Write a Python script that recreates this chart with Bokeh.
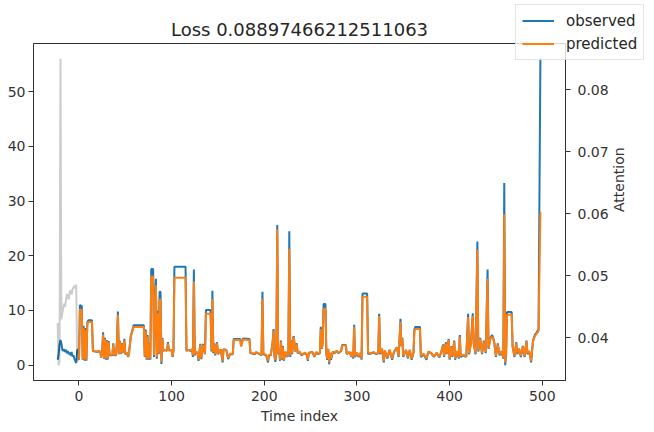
import math
from bokeh.plotting import figure
from bokeh.models import Range1d, LinearAxis, Legend, LegendItem, FixedTicker, PrintfTickFormatter
from bokeh.embed import file_html
from bokeh.resources import INLINE

TITLE = "Loss 0.08897466212511063"

# encoder (history) part
enc_x = [-23, -22, -21, -20, -19, -18, -17, -16, -15, -14, -13, -12,
         -11, -10, -9, -8, -7, -6, -5, -4, -3, -2, -1]
enc_obs = [1.0, 2.0, 3.8, 4.6, 4.0, 2.8, 2.6, 2.9, 2.4, 2.8, 2.2, 2.6,
           2.0, 2.3, 1.8, 2.4, 1.6, 1.8, 1.2, 0.8, 0.4, 2.6, 3.0]
attention = [0.0424, 0.0356, 0.0362, 0.0850, 0.0430, 0.0440, 0.0448, 0.0455,
             0.0450, 0.0462, 0.0471, 0.0466, 0.0462, 0.0474, 0.0477, 0.0470,
             0.0478, 0.0481, 0.0484, 0.0480, 0.0486, 0.0370, 0.0362]

# decoder (prediction) part
dec_x = [0, 1, 3, 4, 5, 6, 7, 8, 9, 10, 14, 15, 18, 20, 21, 23, 24, 25, 26, 27,
         28, 29, 30, 31, 32, 33, 36, 37, 38, 40,
         41, 42, 43, 44, 45, 46, 47, 49, 50, 52, 53, 54, 56, 57, 59, 70, 71, 72, 73, 74,
         75, 76, 77,
         78, 80, 81, 82, 83, 84, 85, 86, 87, 88, 89, 90, 91, 93, 95, 96, 97, 100, 101, 102,
         103, 115, 116, 118, 120, 122, 123, 124, 125, 126, 128, 129, 130, 131, 132, 134, 136,
         137, 142, 143, 144, 145, 146, 147, 149, 150, 153, 155, 156, 159, 161, 163, 166, 167,
         174, 175, 177, 184, 185, 190, 191, 195, 197,
         198, 199, 202, 204, 205, 207, 209, 210, 211, 212, 213, 214, 215, 216, 217, 218, 219,
         220, 221, 223, 225, 226, 227, 228, 229, 230, 231, 232, 233, 235, 236, 238, 240, 244,
         246, 247, 248, 252, 254, 256, 258, 260,
         261, 262, 263, 264, 266, 267, 268, 269, 270, 271, 272, 274, 276, 278, 280, 283, 284,
         288, 289, 292, 294, 295, 296, 297, 298, 300, 302, 304, 305, 306, 311, 312, 315, 318,
         321, 323,
         324, 325, 327, 329, 330, 333, 335, 338, 340, 343, 345, 347, 348, 349, 350, 353, 355,
         357, 359, 361, 362, 363, 368, 369, 372, 375, 377, 380, 383, 386, 389, 391, 393, 394,
         396, 397, 399, 400, 402, 403, 405, 406, 408, 410, 411, 412, 415, 418,
         420, 421, 423, 425, 426, 428, 430, 431, 433, 435, 437, 439, 441, 442, 444, 446, 448,
         450, 452, 454, 456, 458, 459, 460, 461, 462, 467, 468, 470, 472, 473, 475, 477, 479,
         481, 483, 484, 486, 488, 490, 492, 494, 496, 498, 499]
dec_obs = [1.0, 11.0, 10.8, 1.0, 7.2, 0.8, 6.8, 0.8, 7.8, 8.2, 8.2, 2.6, 2.5, 2.4, 2.6, 2.4, 1.4, 2.5, 6.0, 1.2,
           5.0, 1.0, 4.6, 1.0, 4.4, 1.8, 1.8, 4.0, 1.8, 1.8,
           4.5, 9.8, 2.0, 4.5, 2.0, 4.0, 2.2, 4.8, 2.0, 2.2, 1.5, 2.2, 5.5, 6.0, 7.3, 7.3, 1.5, 6.5, 1.0, 5.5,
           1.0, 4.0, 1.0,
           17.6, 17.6, 1.5, 12.0, 15.8, 1.2, 10.0, 2.0, 13.4, 13.4, 0.2, 5.0, 2.6, 2.8, 2.6, 4.2, 2.7, 2.8, 1.5, 2.6,
           18.0, 18.0, 2.6, 2.8, 2.6, 2.9, 1.5, 17.5, 1.8, 2.4, 2.2, 0.8, 2.4, 3.9, 1.1, 3.9, 2.0,
           10.1, 10.1, 2.5, 13.6, 2.2, 4.0, 1.8, 4.2, 2.0, 2.9, 0.5, 2.9, 2.8, 1.1, 2.0, 2.0, 4.8,
           4.8, 3.5, 4.9, 4.8, 2.2, 2.0, 2.4, 2.0, 1.8,
           13.4, 2.0, 1.8, 0.5, 1.8, 1.8, 4.2, 6.6, 1.5, 0.6, 3.0, 25.6, 2.0, 3.0, 0.8, 4.5, 1.0,
           3.5, 0.8, 2.4, 1.5, 2.5, 24.5, 1.5, 4.5, 2.0, 5.0, 5.3, 2.5, 4.0, 2.2, 2.4, 1.8, 2.2,
           1.8, 0.8, 2.2, 2.4, 1.5, 2.4, 2.0, 2.2,
           7.0, 3.0, 4.0, 11.2, 11.2, 2.0, 1.0, 3.0, 0.2, 2.2, 1.0, 2.4, 2.2, 2.6, 2.2, 2.6, 3.7,
           3.7, 2.0, 2.4, 1.5, 2.4, 1.2, 7.4, 1.5, 2.2, 1.5, 2.2, 1.0, 13.1, 13.1, 2.1, 2.1, 2.3,
           2.0, 2.2,
           9.4, 2.0, 3.0, 0.5, 2.6, 1.2, 2.8, 1.0, 2.4, 3.3, 1.5, 8.5, 3.5, 5.0, 1.5, 2.8, 1.2,
           2.8, 1.0, 2.2, 6.5, 7.0, 7.0, 1.5, 2.0, 1.0, 2.4, 2.2, 1.5, 2.2, 1.4, 2.4, 3.8, 1.5,
           4.2, 2.0, 4.8, 1.0, 3.5, 1.5, 4.5, 1.0, 2.5, 1.2, 5.5, 1.5, 1.8, 1.5,
           9.4, 2.0, 4.0, 9.5, 4.0, 2.0, 22.6, 2.5, 5.0, 2.0, 4.5, 2.2, 17.5, 3.0, 5.0, 5.5, 4.5,
           1.5, 4.0, 1.8, 2.5, 1.2, 33.3, 0.0, 2.0, 9.7, 9.7, 3.5, 1.5, 4.2, 2.0, 3.0, 1.5, 3.5,
           1.5, 4.5, 2.0, 2.5, 0.5, 4.5, 5.5, 6.0, 6.5, 56.0, 56.0]
dec_pred = [1.0, 10.2, 10.0, 1.1, 6.8, 1.0, 6.4, 1.0, 7.5, 7.9, 7.9, 2.7, 2.5, 2.5, 2.6, 2.5, 1.5, 2.5, 5.6, 1.3,
            4.8, 1.2, 4.4, 1.2, 4.2, 1.9, 1.9, 3.8, 1.9, 1.9,
            4.3, 9.2, 2.1, 4.3, 2.1, 3.8, 2.3, 4.6, 2.1, 2.3, 1.6, 2.3, 5.3, 5.8, 7.0, 7.0, 1.6, 6.2, 1.2, 5.2,
            1.2, 3.8, 1.2,
            16.2, 16.2, 1.8, 11.0, 14.6, 1.5, 9.5, 2.2, 12.0, 12.0, 0.6, 4.8, 2.7, 2.8, 2.7, 4.0, 2.7, 2.8, 1.6, 2.7,
            16.0, 16.0, 2.7, 2.8, 2.7, 2.9, 1.8, 15.3, 2.0, 2.5, 2.3, 1.0, 2.5, 3.7, 1.3, 3.7, 2.1,
            9.4, 9.4, 2.7, 12.1, 2.4, 3.8, 2.0, 4.0, 2.1, 2.9, 0.8, 2.9, 2.8, 1.3, 2.1, 2.1, 4.6,
            4.6, 3.4, 4.7, 4.6, 2.3, 2.1, 2.4, 2.1, 1.9,
            12.2, 2.1, 1.9, 0.8, 1.9, 1.9, 4.0, 6.3, 1.7, 0.9, 3.0, 24.8, 2.2, 3.0, 1.0, 4.3, 1.2,
            3.3, 1.0, 2.5, 1.6, 2.6, 21.3, 1.8, 4.3, 2.2, 4.8, 5.1, 2.6, 3.8, 2.3, 2.5, 1.9, 2.3,
            1.9, 1.0, 2.3, 2.4, 1.6, 2.4, 2.1, 2.3,
            6.6, 3.1, 3.8, 10.3, 10.3, 2.2, 1.2, 3.0, 0.5, 2.3, 1.2, 2.5, 2.3, 2.6, 2.3, 2.6, 3.6,
            3.6, 2.1, 2.4, 1.6, 2.4, 1.4, 7.0, 1.7, 2.3, 1.6, 2.3, 1.2, 12.5, 12.5, 2.3, 2.2, 2.4,
            2.1, 2.3,
            9.0, 2.2, 3.0, 0.8, 2.7, 1.4, 2.8, 1.2, 2.5, 3.2, 1.7, 7.9, 3.4, 4.8, 1.7, 2.8, 1.4,
            2.8, 1.2, 2.3, 6.2, 6.6, 6.6, 1.7, 2.1, 1.2, 2.5, 2.3, 1.6, 2.3, 1.5, 2.5, 3.6, 1.7,
            4.0, 2.1, 4.6, 1.2, 3.4, 1.7, 4.3, 1.2, 2.6, 1.4, 5.2, 1.7, 1.9, 1.6,
            8.8, 2.2, 3.8, 9.0, 3.8, 2.2, 21.1, 2.7, 4.8, 2.2, 4.3, 2.4, 15.8, 3.1, 4.8, 5.2, 4.3,
            1.7, 3.8, 2.0, 2.6, 1.4, 27.6, 0.5, 2.2, 9.2, 9.2, 3.4, 1.7, 4.0, 2.2, 3.0, 1.7, 3.4,
            1.7, 4.3, 2.2, 2.6, 0.8, 4.3, 5.3, 5.8, 6.2, 27.8, 27.8]

series_labels = ["observed", "predicted"]
x_ticks = [0, 100, 200, 300, 400, 500]
y_ticks = [0, 10, 20, 30, 40, 50]
att_ticks = [0.04, 0.05, 0.06, 0.07, 0.08]

assert len(dec_x) == len(dec_obs) == len(dec_pred)
assert len(enc_x) == len(enc_obs) == len(attention)

BLUE = "#1f77b4"
ORANGE = "#ff7f0e"
INK = "#333333"
FONT = "DejaVu Sans"

# autoscale with 5% margins (like matplotlib)
x_lo, x_hi = min(enc_x), max(dec_x)
xp = 0.05 * (x_hi - x_lo)
vals = enc_obs + dec_obs + dec_pred
y_lo, y_hi = min(vals), max(vals)
yp = 0.05 * (y_hi - y_lo)
a_lo, a_hi = min(attention), max(attention)
ap = 0.05 * (a_hi - a_lo)

p = figure(width=650, height=428, output_backend="svg", toolbar_location=None,
           x_range=Range1d(x_lo - xp, x_hi + xp), y_range=Range1d(y_lo - yp, y_hi + yp),
           min_border_left=33, min_border_right=85, min_border_top=43, min_border_bottom=48,
           title=TITLE)
p.extra_y_ranges = {"att": Range1d(a_lo - ap, a_hi + ap)}

p.title.text_font = FONT
p.title.text_font_size = "18px"
p.title.text_font_style = "normal"
p.title.text_color = "#262626"
p.title.align = "center"
p.title.standoff = 8

p.xgrid.grid_line_color = None
p.ygrid.grid_line_color = None
p.outline_line_color = INK
p.outline_line_alpha = 1.0
p.background_fill_color = "white"
p.border_fill_color = "white"

ax2 = LinearAxis(y_range_name="att", axis_label="Attention")
p.add_layout(ax2, "right")

p.xaxis.axis_label = "Time index"
p.xaxis.ticker = FixedTicker(ticks=x_ticks)
p.yaxis.ticker = FixedTicker(ticks=y_ticks)
ax2.ticker = FixedTicker(ticks=att_ticks)
ax2.formatter = PrintfTickFormatter(format="%.2f")

for ax in [p.xaxis[0], p.yaxis[0], ax2]:
    ax.axis_line_color = INK
    ax.major_tick_line_color = INK
    ax.major_tick_in = 0
    ax.major_tick_out = 5
    ax.minor_tick_line_color = None
    ax.major_label_text_font = FONT
    ax.major_label_text_font_size = "14px"
    ax.major_label_text_color = INK
    ax.axis_label_text_font = FONT
    ax.axis_label_text_font_size = "14px"
    ax.axis_label_text_font_style = "normal"
    ax.axis_label_text_color = INK

p.yaxis[0].major_label_standoff = 3
p.xaxis[0].major_label_standoff = 5
p.xaxis[0].axis_label_standoff = 4
ax2.major_label_standoff = 7
ax2.axis_label_standoff = 7
ax2.axis_label_orientation = math.pi / 2

p.line(enc_x, enc_obs, line_color=BLUE, line_width=2)
p.line(dec_x, dec_obs, line_color=BLUE, line_width=2)
p.line(dec_x, dec_pred, line_color=ORANGE, line_width=2)
p.line(enc_x, attention, line_color="black", line_alpha=0.2, line_width=2, y_range_name="att")

# figure-level legend (like matplotlib's fig.legend), drawn as a small
# transparent overlay at the upper right corner of the figure.  Its renderers
# carry the real series but its ranges lie outside the data, so only the
# legend box itself is visible.
lg = figure(width=132, height=56, output_backend="svg", toolbar_location=None,
            x_axis_location=None, y_axis_location=None, title_location=None,
            min_border=0, x_range=Range1d(-3000, -2000), y_range=Range1d(-3000, -2000))
lg.outline_line_color = None
lg.xgrid.grid_line_color = None
lg.ygrid.grid_line_color = None
lg.background_fill_alpha = 0
lg.border_fill_alpha = 0
lr_obs = lg.line(dec_x, dec_obs, line_color=BLUE, line_width=2)
lr_pred = lg.line(dec_x, dec_pred, line_color=ORANGE, line_width=2)
legend = Legend(items=[LegendItem(label=series_labels[0], renderers=[lr_obs]),
                       LegendItem(label=series_labels[1], renderers=[lr_pred])],
                location="top_left", orientation="vertical", margin=0,
                label_text_font=FONT, label_text_font_size="15px", label_text_color="#262626",
                glyph_width=32, glyph_height=19, label_height=19, label_standoff=12,
                padding=6, spacing=4,
                border_line_color="#cccccc", border_line_width=1,
                background_fill_color="white", background_fill_alpha=0.8)
lg.add_layout(legend, "center")
lg.styles = {"position": "absolute", "left": "515px", "top": "4px", "z-index": "5"}

open("out.html", "w").write(file_html([p, lg], INLINE))
